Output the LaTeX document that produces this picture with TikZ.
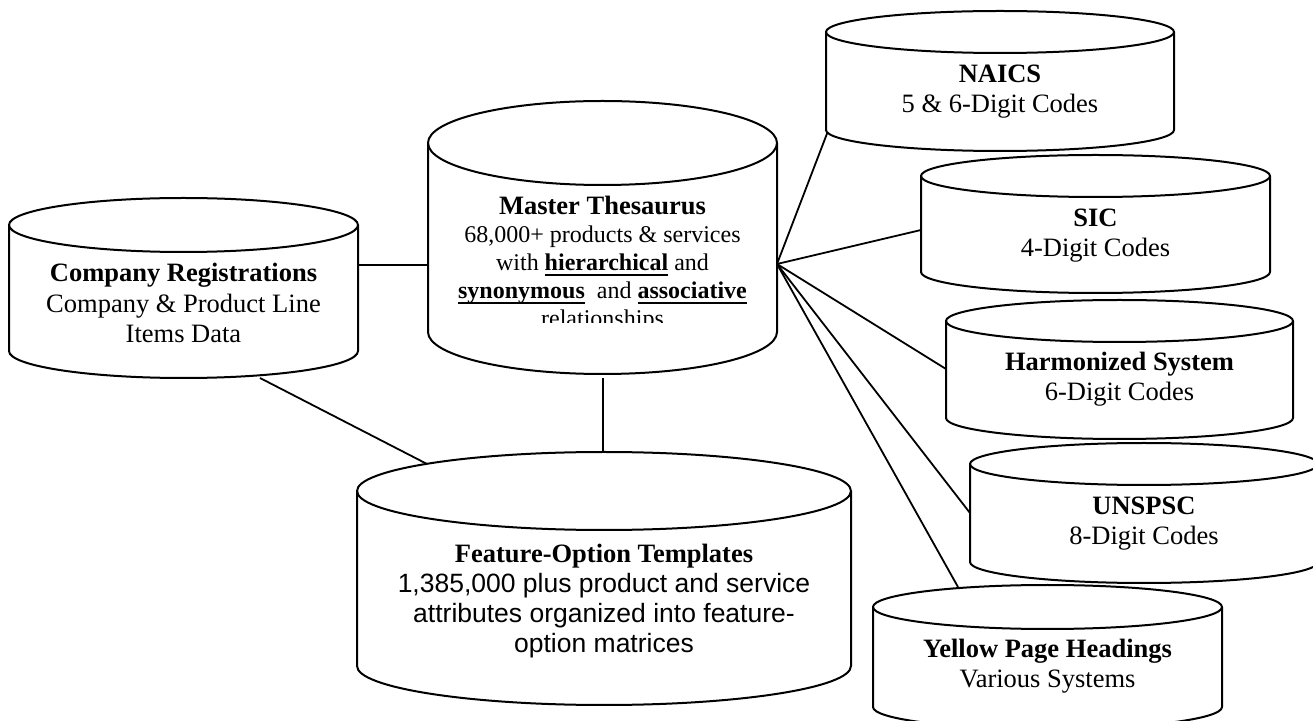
\documentclass[tikz,border=0pt]{standalone}
\usepackage{fontspec}
\setmainfont{Liberation Serif}
\newfontfamily\arialf{Liberation Sans}
\newcommand{\ulb}[1]{\setbox0\hbox{#1}\rlap{\rule[-2.6pt]{\wd0}{1.2pt}}\box0\relax}
\newcommand{\dbcyl}[5]{% cx, ytop join, ybottom join, rx, ry
  \fill[white] ({#1-#4},#2) -- ({#1-#4},#3) arc[start angle=180,end angle=0,x radius=#4,y radius=#5]
     -- ({#1+#4},#2) arc[start angle=0,end angle=-180,x radius=#4,y radius=#5] -- cycle;
  \draw[cylline] ({#1-#4},#2) -- ({#1-#4},#3) arc[start angle=180,end angle=0,x radius=#4,y radius=#5] -- ({#1+#4},#2);
  \draw[cylline] (#1,#2) ellipse[x radius=#4,y radius=#5];
}
\tikzset{
  cylline/.style={line width=1pt, line join=round},
  conn/.style={line width=0.9pt},
  lbl/.style={anchor=base, inner sep=0pt}
}
\begin{document}
\begin{tikzpicture}[x=0.5pt,y=-0.5pt]
\clip (0,0) rectangle (1313,721);
\fill[white] (0,0) rectangle (1313,721);

% connection points
\coordinate (crR) at (358,265);
\coordinate (mtL) at (428,265);
\coordinate (crB) at (260,378);
\coordinate (foT1) at (429,465);
\coordinate (mtB) at (603,378);
\coordinate (foT2) at (603,452);
\coordinate (hub) at (777,264);
\coordinate (naL) at (828,131);
\coordinate (siL) at (921,230);
\coordinate (hsL) at (946,369);
\coordinate (unL) at (970,513);
\coordinate (ypT) at (958,587);

% connectors
\draw[conn] (crR) -- (mtL);
\draw[conn] (crB) -- (foT1);
\draw[conn] (mtB) -- (foT2);
\draw[conn] (hub) -- (naL);
\draw[conn] (hub) -- (siL);
\draw[conn] (hub) -- (hsL);
\draw[conn] (hub) -- (unL);
\draw[conn] (hub) -- (ypT);

% cylinders
\dbcyl{183.5}{225}{351}{174.5}{27}
\dbcyl{602.5}{143}{332}{174.5}{42}
\dbcyl{604}{491}{666}{247}{39}
\dbcyl{1000}{32}{130}{174}{21}
\dbcyl{1095.5}{176}{272}{174.5}{21}
\dbcyl{1119.5}{321}{418}{173.5}{21}
\dbcyl{1144}{464}{562}{174}{21}
\dbcyl{1047.5}{607}{707}{174.5}{22}

% texts
\node[lbl] (cr) at (183.5,282) {\fontsize{13.25}{15.25}\selectfont\begin{tabular}[t]{@{}c@{}}\textbf{Company Registrations}\\Company \& Product Line\\Items Data\end{tabular}};

\begin{scope}
\clip (420,100) rectangle (790,323);
\node[lbl] (mt) at (602.5,215) {\fontsize{12}{14}\selectfont\begin{tabular}[t]{@{}c@{}}{\fontsize{13.25}{14}\selectfont\textbf{Master Thesaurus}}\\68,000+ products \& services\\with \ulb{\textbf{hierarchical}} and\\\ulb{\textbf{synonymous}}\ \ and \ulb{\textbf{associative}}\\relationships\end{tabular}};
\end{scope}

\node[lbl] (fo) at (604,563) {\fontsize{13.25}{15}\selectfont\begin{tabular}[t]{@{}c@{}}\textbf{Feature-Option Templates}\\{\arialf 1,385,000 plus product and service}\\{\arialf attributes organized into feature-}\\{\arialf option matrices}\end{tabular}};

\node[lbl] (na) at (1000,83) {\fontsize{13.25}{15}\selectfont\begin{tabular}[t]{@{}c@{}}\textbf{NAICS}\\5 \& 6-Digit Codes\end{tabular}};
\node[lbl] (si) at (1095.5,227) {\fontsize{13.25}{15}\selectfont\begin{tabular}[t]{@{}c@{}}\textbf{SIC}\\4-Digit Codes\end{tabular}};
\node[lbl] (hs) at (1119.5,371) {\fontsize{13.25}{15}\selectfont\begin{tabular}[t]{@{}c@{}}\textbf{Harmonized System}\\6-Digit Codes\end{tabular}};
\node[lbl] (un) at (1144,515) {\fontsize{13.25}{15}\selectfont\begin{tabular}[t]{@{}c@{}}\textbf{UNSPSC}\\8-Digit Codes\end{tabular}};
\node[lbl] (yp) at (1047.5,658) {\fontsize{13.25}{15}\selectfont\begin{tabular}[t]{@{}c@{}}\textbf{Yellow Page Headings}\\Various Systems\end{tabular}};
\end{tikzpicture}
\end{document}
